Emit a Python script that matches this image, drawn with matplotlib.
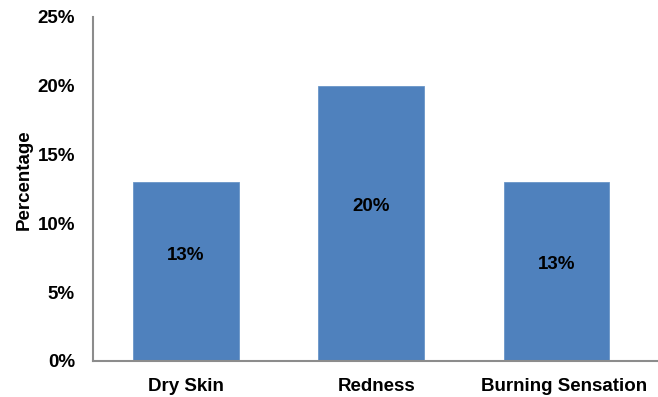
import matplotlib.pyplot as plt
from matplotlib.ticker import FuncFormatter
from matplotlib.transforms import ScaledTranslation

categories = ["Dry Skin", "Redness", "Burning Sensation"]
percentages = [13, 20, 13]

# height (in %) where each value label sits inside its bar
label_heights = [7.7, 11.2, 7.0]
# small horizontal nudge (pixels) for each category label
label_nudge = [0, 5, 7]

plt.rcParams["font.family"] = ["Liberation Sans", "DejaVu Sans"]
plt.rcParams["font.weight"] = "bold"

fig = plt.figure(figsize=(6.58, 3.97), dpi=100)
ax = fig.add_axes([0.1413, 0.0907, 0.8587, 0.8665])

x = range(len(categories))
ax.bar(x, percentages, width=0.57, color="#4F81BD", edgecolor="#6A96C8", linewidth=0.6, zorder=2)

for xi, val, ly in zip(x, percentages, label_heights):
    ax.text(xi, ly, f"{val}%", ha="center", va="center", fontsize=13.5, fontweight="bold", color="black")

ax.set_xlim(-0.5, 2.547)
ax.set_ylim(0, 25)
ax.set_yticks([0, 5, 10, 15, 20, 25])
ax.yaxis.set_major_formatter(FuncFormatter(lambda v, _: f"{int(v)}%"))
ax.set_xticks(list(x))
ax.set_xticklabels(categories)

ax.tick_params(axis="both", length=0, labelsize=13.5)
ax.tick_params(axis="y", pad=13)
ax.tick_params(axis="x", pad=12)
for lbl in ax.get_xticklabels() + ax.get_yticklabels():
    lbl.set_fontweight("bold")

for lbl, dx in zip(ax.get_xticklabels(), label_nudge):
    lbl.set_transform(lbl.get_transform() + ScaledTranslation(dx / 100, 0, fig.dpi_scale_trans))

ax.set_ylabel("Percentage", fontsize=13.5, fontweight="bold")
ax.yaxis.set_label_coords(-0.106, 0.526)

for side in ["top", "right"]:
    ax.spines[side].set_visible(False)
for side in ["left", "bottom"]:
    ax.spines[side].set_color("#8C8C8C")
    ax.spines[side].set_linewidth(1.5)

fig.savefig("out.png", dpi=100)
